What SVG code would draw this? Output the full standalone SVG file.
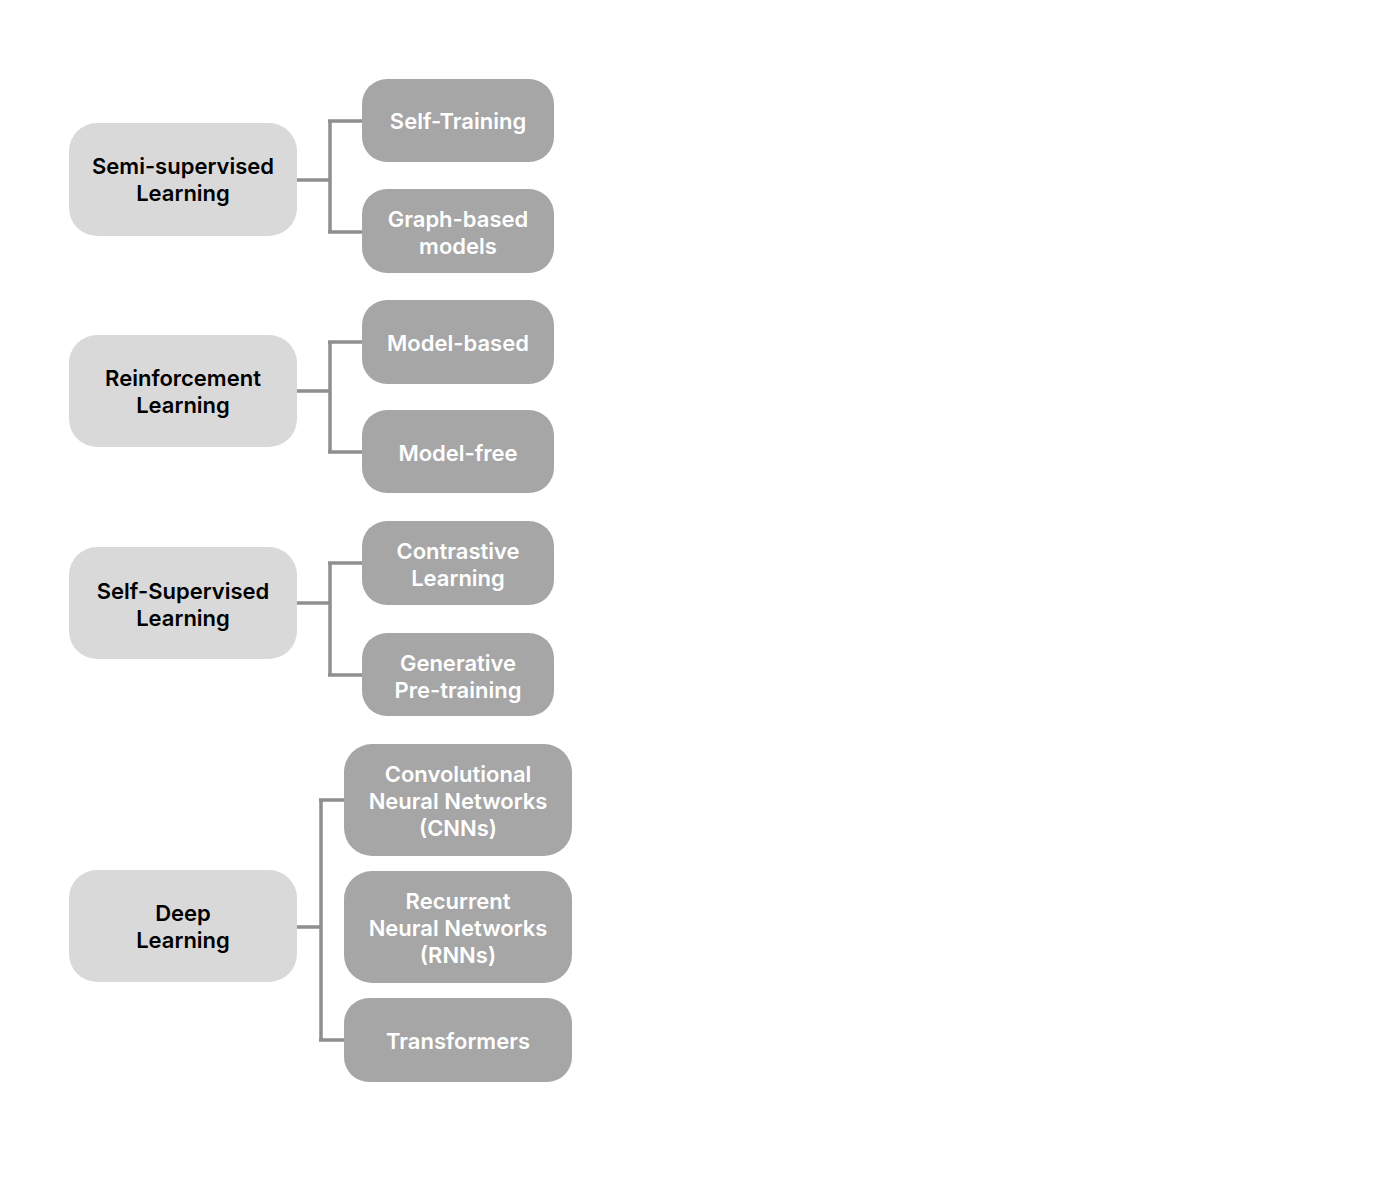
<svg xmlns="http://www.w3.org/2000/svg" width="1374" height="1184" viewBox="0 0 1374 1184">
<style>
.p{fill:#d9d9d9}
.c{fill:#a6a6a6}
.tp{font-family:Inter,"Liberation Sans",sans-serif;font-size:22px;font-weight:600;fill:#000;text-anchor:middle}
.tc{font-family:Inter,"Liberation Sans",sans-serif;font-size:22px;font-weight:600;fill:#fff;text-anchor:middle}
.ln{fill:none;stroke:#8f8f8f;stroke-width:3.5}
</style>
<rect width="1374" height="1184" fill="#fff"/>
<g id="connectors">
<path class="ln" d="M297 180H330M330 121V232M328 121H362M328 232H362"/>
<path class="ln" d="M297 391H330M330 342V452M328 342H362M328 452H362"/>
<path class="ln" d="M297 603H330M330 563V675M328 563H362M328 675H362"/>
<path class="ln" d="M297 927H321M321 800V1040M319 800H344M319 1040H344"/>
</g>
<g id="semi"><rect class="p" x="69" y="123" width="228" height="113" rx="28"/><text class="tp" x="183" y="174">Semi-supervised</text><text class="tp" x="183" y="201">Learning</text></g>
<g id="selftraining"><rect class="c" x="362" y="79" width="192" height="83" rx="25"/><text class="tc" x="458" y="129">Self-Training</text></g>
<g id="graph"><rect class="c" x="362" y="189" width="192" height="84" rx="25"/><text class="tc" x="458" y="227">Graph-based</text><text class="tc" x="458" y="254">models</text></g>
<g id="reinf"><rect class="p" x="69" y="335" width="228" height="112" rx="28"/><text class="tp" x="183" y="386">Reinforcement</text><text class="tp" x="183" y="413">Learning</text></g>
<g id="modelbased"><rect class="c" x="362" y="300" width="192" height="84" rx="25"/><text class="tc" x="458" y="351">Model-based</text></g>
<g id="modelfree"><rect class="c" x="362" y="410" width="192" height="83" rx="25"/><text class="tc" x="458" y="461">Model-free</text></g>
<g id="selfsup"><rect class="p" x="69" y="547" width="228" height="112" rx="28"/><text class="tp" x="183" y="599">Self-Supervised</text><text class="tp" x="183" y="626">Learning</text></g>
<g id="contrastive"><rect class="c" x="362" y="521" width="192" height="84" rx="25"/><text class="tc" x="458" y="559">Contrastive</text><text class="tc" x="458" y="586">Learning</text></g>
<g id="generative"><rect class="c" x="362" y="633" width="192" height="83" rx="25"/><text class="tc" x="458" y="671">Generative</text><text class="tc" x="458" y="698">Pre-training</text></g>
<g id="deep"><rect class="p" x="69" y="870" width="228" height="112" rx="28"/><text class="tp" x="183" y="921">Deep</text><text class="tp" x="183" y="948">Learning</text></g>
<g id="cnn"><rect class="c" x="344" y="744" width="228" height="112" rx="28"/><text class="tc" x="458" y="782">Convolutional</text><text class="tc" x="458" y="809">Neural Networks</text><text class="tc" x="458" y="836">(CNNs)</text></g>
<g id="rnn"><rect class="c" x="344" y="871" width="228" height="112" rx="28"/><text class="tc" x="458" y="909">Recurrent</text><text class="tc" x="458" y="936">Neural Networks</text><text class="tc" x="458" y="963">(RNNs)</text></g>
<g id="transformers"><rect class="c" x="344" y="998" width="228" height="84" rx="25"/><text class="tc" x="458" y="1049">Transformers</text></g>
</svg>
